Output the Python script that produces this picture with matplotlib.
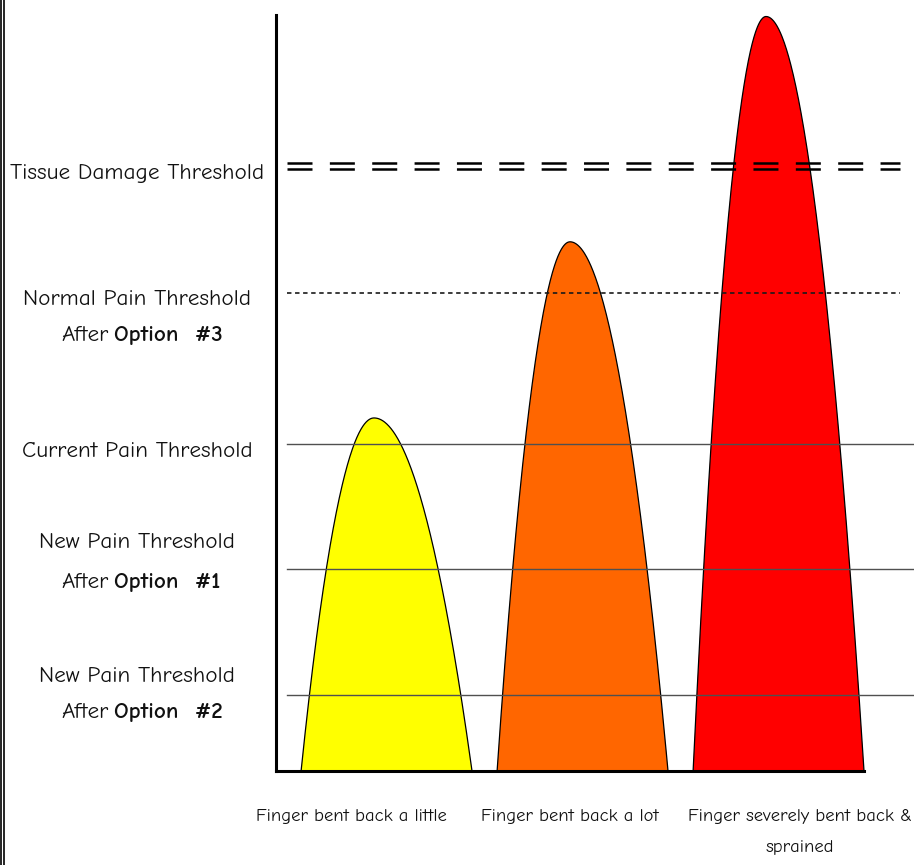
import numpy as np
import matplotlib
matplotlib.use("Agg")
import matplotlib.pyplot as plt
import matplotlib.transforms as mtransforms
from matplotlib import font_manager
from matplotlib.lines import Line2D

# pain level scale: 0 = x axis, 100 = top of the y axis
threshold_names = [
    "Tissue Damage Threshold",
    "Normal Pain Threshold",
    "Current Pain Threshold",
    "New Pain Threshold",
    "New Pain Threshold",
]
threshold_options = [None, "Option  #3", None, "Option  #1", "Option  #2"]
threshold_levels = [80.0, 63.2, 43.3, 26.7, 10.1]
threshold_styles = ["double", "dashed", "solid", "solid", "solid"]

categories = [
    "Finger bent back a little",
    "Finger bent back a lot",
    "Finger severely bent back &\nsprained",
]
peak_levels = [46.7, 70.0, 99.8]
peak_colors = ["#ffff00", "#ff6600", "#ff0000"]

W, H, DPI = 914, 865, 100
available = {f.name for f in font_manager.fontManager.ttflist}
family = next((f for f in ["Comic Neue", "Comic Sans MS"] if f in available), "DejaVu Sans")
plt.rcParams["font.family"] = [family, "DejaVu Sans"]
plt.rcParams["lines.scale_dashes"] = False
text_color = "#111111"

fig = plt.figure(figsize=(W / DPI, H / DPI), dpi=DPI)
renderer = fig.canvas.get_renderer()


def fit_fontsize(sample, target_px, base=16.0, **kw):
    # pick a size so that the sample string is about as wide as in the original
    t = fig.text(0, 0, sample, fontsize=base, **kw)
    w = t.get_window_extent(renderer=renderer).width
    t.remove()
    return base * target_px / w


left_size = fit_fontsize("Current Pain Threshold", 216) * 1.07
bottom_size = fit_fontsize("Finger bent back a little", 183) * 1.04

ax = fig.add_axes([276 / W, 94 / H, 638 / W, 756 / H])
ax.set_xlim(-0.5, 2.755)
ax.set_ylim(0, 100)
ax.set_xticks([])
ax.set_yticks([])
for side in ("top", "right"):
    ax.spines[side].set_visible(False)
for side in ("left", "bottom"):
    ax.spines[side].set_linewidth(2.2)
    ax.spines[side].set_zorder(5)
ax.spines["bottom"].set_bounds(-0.5, 2.5)

# humps: a parabola, a bit longer on the right side
left_half, right_half = 0.372, 0.5
for i, (h, c) in enumerate(zip(peak_levels, peak_colors)):
    xs = np.linspace(i - left_half, i + right_half, 400)
    half = np.where(xs < i, left_half, right_half)
    ys = h * (1 - ((xs - i) / half) ** 2)
    ax.fill_between(xs, 0, ys, facecolor=c, edgecolor="none", zorder=1)
    ax.plot(xs, ys, color="black", lw=0.9, zorder=2, clip_on=False)

# threshold lines
x_start, x_dash_end, x_end = -0.444, 2.684, 2.755
for lvl, style in zip(threshold_levels, threshold_styles):
    if style == "double":
        for dy in (-3.3, 3.3):
            tr = mtransforms.offset_copy(ax.transData, fig=fig, y=dy, units="dots")
            ax.plot([x_start, x_dash_end], [lvl, lvl], transform=tr, color="black",
                    lw=1.8, dashes=(18, 12.5), solid_capstyle="butt", zorder=4)
    elif style == "dashed":
        ax.plot([x_start, x_dash_end], [lvl, lvl], color="#1a1a1a", lw=1.2,
                dashes=(3.2, 2.6), zorder=4)
    else:
        ax.plot([x_start, x_end], [lvl, lvl], color="#505050", lw=1.0, zorder=4)

# threshold labels on the left (layout offsets in pixels, downward)
label_x, split_x = 137, 111
label_dy = [7, 6, 8, -27, -18]
option_dy = [None, 42, None, 13, 18]
left_tr = mtransforms.blended_transform_factory(fig.transFigure, ax.transData)


def put(txt, xpx, lvl, dy, ha, weight="normal"):
    tr = mtransforms.offset_copy(left_tr, fig=fig, y=-dy, units="dots")
    ax.text(xpx / W, lvl, txt, transform=tr, ha=ha, va="center", fontsize=left_size,
            fontweight=weight, color=text_color, clip_on=False)


for name, opt, lvl, dy, ody in zip(threshold_names, threshold_options,
                                   threshold_levels, label_dy, option_dy):
    put(name, label_x, lvl, dy, "center")
    if opt:
        put("After", split_x - 2, lvl, ody, "right")
        put(opt, split_x + 3, lvl, ody, "left", weight="bold")

# category labels under the axis
label_dx = [-0.117, 0.0, 0.173]
for i, (cat, dx) in enumerate(zip(categories, label_dx)):
    ax.annotate(cat, xy=(i + dx, 0), xycoords="data", xytext=(0, -27.5),
                textcoords="offset points", ha="center", va="top", fontsize=bottom_size,
                linespacing=2.35, color=text_color, annotation_clip=False)

# double frame line at the left edge
for xpx in (0.8, 3.8):
    fig.add_artist(Line2D([xpx / W, xpx / W], [0, 1], transform=fig.transFigure,
                          color="black", lw=1.2))

fig.savefig("out.png", dpi=DPI, facecolor="white")
